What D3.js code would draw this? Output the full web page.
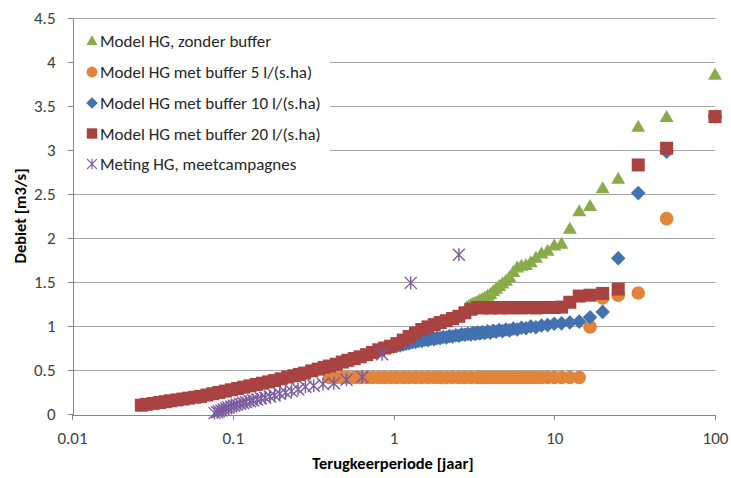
<!DOCTYPE html>
<html>
<head>
<meta charset="utf-8">
<script src="https://cdn.jsdelivr.net/npm/d3@7"></script>
<style>
  body { margin: 0; background: #fff; }
  svg { font-family: Calibri, Carlito, 'Liberation Sans', Arial, sans-serif; }
  .tick text { fill: #404040; font-size: 17px; }
</style>
</head>
<body>
<div id="chart-area"></div>
<script>
// return period [jaar] vs debiet [m3/s]
const zonderBuffer = [
  [2.86, 1.22], [2.94, 1.23], [3.03, 1.25], [3.13, 1.26], [3.23, 1.27], [3.33, 1.28],
  [3.45, 1.30], [3.57, 1.31], [3.70, 1.33], [3.85, 1.35], [4.0, 1.37], [4.17, 1.40],
  [4.35, 1.43], [4.55, 1.46], [4.76, 1.49], [5.0, 1.52], [5.26, 1.56], [5.56, 1.62],
  [5.88, 1.67], [6.25, 1.69], [6.67, 1.70], [7.14, 1.73], [7.69, 1.78], [8.33, 1.83],
  [9.09, 1.86], [10, 1.92], [11.1, 1.94], [12.5, 2.11], [14.3, 2.31], [16.7, 2.37],
  [20, 2.57], [25, 2.68], [33.3, 3.27], [50, 3.38], [100, 3.86]
];

const buffer5 = [
  [0.40, 0.415], [0.44, 0.415], [0.48, 0.415], [0.52, 0.415], [0.57, 0.415], [0.62, 0.415],
  [0.68, 0.415], [0.74, 0.415], [0.81, 0.415], [0.88, 0.415], [0.96, 0.415], [1.05, 0.415],
  [1.15, 0.415], [1.25, 0.415], [1.37, 0.415], [1.5, 0.415], [1.64, 0.415], [1.79, 0.415],
  [1.95, 0.415], [2.13, 0.415], [2.33, 0.415], [2.55, 0.415], [2.78, 0.415], [3.03, 0.415],
  [3.33, 0.415], [3.45, 0.415], [3.57, 0.415], [3.70, 0.415], [3.85, 0.415], [4.0, 0.415],
  [4.17, 0.415], [4.35, 0.415], [4.55, 0.415], [4.76, 0.415], [5.0, 0.415], [5.26, 0.415],
  [5.56, 0.415], [5.88, 0.415], [6.25, 0.415], [6.67, 0.415], [7.14, 0.415], [7.69, 0.415],
  [8.33, 0.415], [9.09, 0.415], [10, 0.415], [11.1, 0.415], [12.5, 0.415], [14.3, 0.415],
  [16.7, 0.99], [20, 1.32], [25, 1.35], [33.3, 1.375], [50, 2.22], [100, 3.38]
];

const buffer10 = [
  [0.96, 0.76], [1.0, 0.765], [1.05, 0.775], [1.1, 0.78], [1.15, 0.79], [1.2, 0.80],
  [1.25, 0.805], [1.31, 0.815], [1.37, 0.82], [1.43, 0.83], [1.5, 0.83], [1.57, 0.845],
  [1.64, 0.84], [1.71, 0.855], [1.79, 0.85], [1.87, 0.865], [1.95, 0.86], [2.04, 0.875],
  [2.13, 0.87], [2.23, 0.885], [2.33, 0.88], [2.44, 0.895], [2.55, 0.89], [2.66, 0.905],
  [2.78, 0.90], [2.9, 0.91], [3.03, 0.905], [3.13, 0.92], [3.23, 0.91], [3.33, 0.925],
  [3.45, 0.915], [3.57, 0.93], [3.70, 0.92], [3.85, 0.94], [4.0, 0.925], [4.17, 0.945],
  [4.35, 0.935], [4.55, 0.955], [4.76, 0.94], [5.0, 0.96], [5.26, 0.95], [5.56, 0.97],
  [5.88, 0.96], [6.25, 0.98], [6.67, 0.975], [7.14, 0.995], [7.69, 0.985], [8.33, 1.005],
  [9.09, 1.01], [10, 1.025], [11.1, 1.03], [12.5, 1.04], [14.3, 1.05], [16.7, 1.10],
  [20, 1.16], [25, 1.77], [33.3, 2.51], [50, 2.98], [100, 3.38]
];

const buffer20 = [
  [0.027, 0.10], [0.029, 0.11], [0.032, 0.12], [0.035, 0.13], [0.038, 0.14], [0.041, 0.15],
  [0.045, 0.16], [0.049, 0.17], [0.053, 0.18], [0.058, 0.19], [0.063, 0.20], [0.069, 0.215],
  [0.075, 0.23], [0.082, 0.245], [0.09, 0.26], [0.098, 0.275], [0.107, 0.29], [0.117, 0.305],
  [0.128, 0.32], [0.14, 0.335], [0.153, 0.35], [0.167, 0.365], [0.182, 0.38], [0.2, 0.40],
  [0.22, 0.42], [0.24, 0.435], [0.26, 0.45], [0.28, 0.465], [0.31, 0.49], [0.34, 0.51],
  [0.37, 0.53], [0.40, 0.545], [0.44, 0.565], [0.48, 0.59], [0.52, 0.61], [0.57, 0.63],
  [0.62, 0.65], [0.68, 0.675], [0.74, 0.70], [0.81, 0.73], [0.88, 0.75], [0.96, 0.77],
  [1.05, 0.80], [1.15, 0.84], [1.25, 0.88], [1.37, 0.92], [1.5, 0.96], [1.64, 0.99],
  [1.79, 1.015], [1.95, 1.04], [2.13, 1.06], [2.33, 1.085], [2.55, 1.11], [2.78, 1.15],
  [3.03, 1.19], [3.33, 1.21], [3.45, 1.21], [3.57, 1.205], [3.70, 1.21], [3.85, 1.21],
  [4.0, 1.205], [4.17, 1.21], [4.35, 1.21], [4.55, 1.205], [4.76, 1.21], [5.0, 1.21],
  [5.26, 1.205], [5.56, 1.21], [5.88, 1.21], [6.25, 1.205], [6.67, 1.21], [7.14, 1.21],
  [7.69, 1.205], [8.33, 1.21], [9.09, 1.21], [10, 1.21], [11.1, 1.215], [12.5, 1.27],
  [14.3, 1.34], [16.7, 1.35], [20, 1.37], [25, 1.42], [33.3, 2.83], [50, 3.02], [100, 3.38]
];

const meting = [
  [2.55, 1.81], [1.28, 1.49], [0.85, 0.68], [0.64, 0.42], [0.51, 0.39], [0.425, 0.35],
  [0.364, 0.34], [0.319, 0.32], [0.283, 0.31], [0.255, 0.28], [0.232, 0.26], [0.213, 0.245],
  [0.196, 0.23], [0.182, 0.21], [0.17, 0.20], [0.159, 0.185], [0.15, 0.175], [0.142, 0.165],
  [0.134, 0.155], [0.128, 0.145], [0.121, 0.135], [0.116, 0.125], [0.111, 0.115], [0.106, 0.105],
  [0.102, 0.095], [0.098, 0.085], [0.094, 0.075], [0.091, 0.065], [0.088, 0.05], [0.085, 0.04],
  [0.082, 0.03], [0.080, 0.02], [0.077, 0.01]
];

const legendLabels = [
  'Model HG, zonder buffer',
  'Model HG met buffer 5 l/(s.ha)',
  'Model HG met buffer 10 l/(s.ha)',
  'Model HG met buffer 20 l/(s.ha)',
  'Meting HG, meetcampagnes'
];
const xTicks = [0.01, 0.1, 1, 10, 100];
const yTicks = [0, 0.5, 1, 1.5, 2, 2.5, 3, 3.5, 4, 4.5];

const widthSvg = 731;
const heightSvg = 478;
const plot = { left: 72, right: 715, top: 18, bottom: 414 };

const markers = {
  triangle: s => `M0,${-6.5 * s}L${7 * s},${5.5 * s}L${-7 * s},${5.5 * s}Z`,
  circle: s => d3.symbol(d3.symbolCircle, Math.PI * (6.8 * s) ** 2)(),
  diamond: s => `M0,${-7.3 * s}L${7.3 * s},0L0,${7.3 * s}L${-7.3 * s},0Z`,
  square: s => `M${-6.5 * s},${-6.5 * s}h${13 * s}v${13 * s}h${-13 * s}Z`,
  star: s => `M0,${-6.5 * s}V${6.5 * s}M${-6 * s},${-6 * s}L${6 * s},${6 * s}M${-6 * s},${6 * s}L${6 * s},${-6 * s}`
};

const series = [
  { data: zonderBuffer, marker: 'triangle', color: '#8aab4a' },
  { data: buffer5, marker: 'circle', color: '#e2843a' },
  { data: buffer10, marker: 'diamond', color: '#4272b0' },
  { data: buffer20, marker: 'square', color: '#a84342' },
  { data: meting, marker: 'star', color: '#7a5b9e', stroke: true }
];

const scaleX = d3.scaleLog()
  .domain([0.01, 100])
  .range([plot.left, plot.right]);

const scaleY = d3.scaleLinear()
  .domain([0, 4.5])
  .range([plot.bottom, plot.top]);

const svg = d3.select('#chart-area')
  .append('svg')
    .attr('width', widthSvg)
    .attr('height', heightSvg);

// gridlines
svg.append('g')
  .selectAll('line')
  .data(yTicks.filter(d => d > 0))
  .join('line')
    .attr('x1', plot.left)
    .attr('x2', plot.right)
    .attr('y1', d => scaleY(d) + 0.5)
    .attr('y2', d => scaleY(d) + 0.5)
    .attr('stroke', '#a6a6a6')
    .attr('shape-rendering', 'crispEdges');

// legend background hides the grid behind it
svg.append('rect')
  .attr('x', 74)
  .attr('y', 24)
  .attr('width', 256)
  .attr('height', 162)
  .attr('fill', '#fff');

const axisX = d3.axisBottom(scaleX)
  .tickValues(xTicks)
  .tickFormat(d => String(d))
  .tickSize(5)
  .tickSizeOuter(0)
  .tickPadding(12);

const axisY = d3.axisLeft(scaleY)
  .tickValues(yTicks)
  .tickFormat(d => String(d))
  .tickSize(5)
  .tickSizeOuter(0)
  .tickPadding(12);

const gx = svg.append('g')
  .attr('transform', `translate(0, ${plot.bottom + 0.5})`)
  .call(axisX);

const gy = svg.append('g')
  .attr('transform', `translate(${plot.left + 0.5}, 0)`)
  .call(axisY);

[gx, gy].forEach(g => {
  g.attr('font-family', null).attr('font-size', null);
  g.select('.domain').attr('stroke', '#868686').attr('shape-rendering', 'crispEdges');
  g.selectAll('.tick line').attr('stroke', '#868686').attr('shape-rendering', 'crispEdges');
});

// points
series.forEach(s => {
  svg.append('g')
    .selectAll('path')
    .data(s.data)
    .join('path')
      .attr('transform', d => `translate(${scaleX(d[0])}, ${scaleY(d[1])})`)
      .attr('d', markers[s.marker](1))
      .attr('fill', s.stroke ? 'none' : s.color)
      .attr('stroke', s.stroke ? s.color : 'none')
      .attr('stroke-width', s.stroke ? 1.4 : 0);
});

// legend
const legendRows = [40.5, 72, 103, 133.5, 164];
const legend = svg.append('g');
legendLabels.forEach((label, i) => {
  const s = series[i];
  legend.append('path')
    .attr('transform', `translate(92, ${legendRows[i]})`)
    .attr('d', markers[s.marker](0.8))
    .attr('fill', s.stroke ? 'none' : s.color)
    .attr('stroke', s.stroke ? s.color : 'none')
    .attr('stroke-width', s.stroke ? 1.2 : 0);
  legend.append('text')
    .attr('x', 100)
    .attr('y', legendRows[i] + 6)
    .attr('font-size', '17px')
    .attr('fill', '#262626')
    .text(label);
});

// axis titles
svg.append('text')
  .attr('x', 393)
  .attr('y', 469)
  .attr('text-anchor', 'middle')
  .attr('font-weight', 'bold')
  .attr('font-size', '16.5px')
  .attr('fill', '#000')
  .text('Terugkeerperiode [jaar]');

svg.append('text')
  .attr('transform', `translate(26, ${(plot.top + plot.bottom) / 2}) rotate(-90)`)
  .attr('text-anchor', 'middle')
  .attr('font-weight', 'bold')
  .attr('font-size', '16.5px')
  .attr('fill', '#000')
  .text('Debiet [m3/s]');
</script>
</body>
</html>
